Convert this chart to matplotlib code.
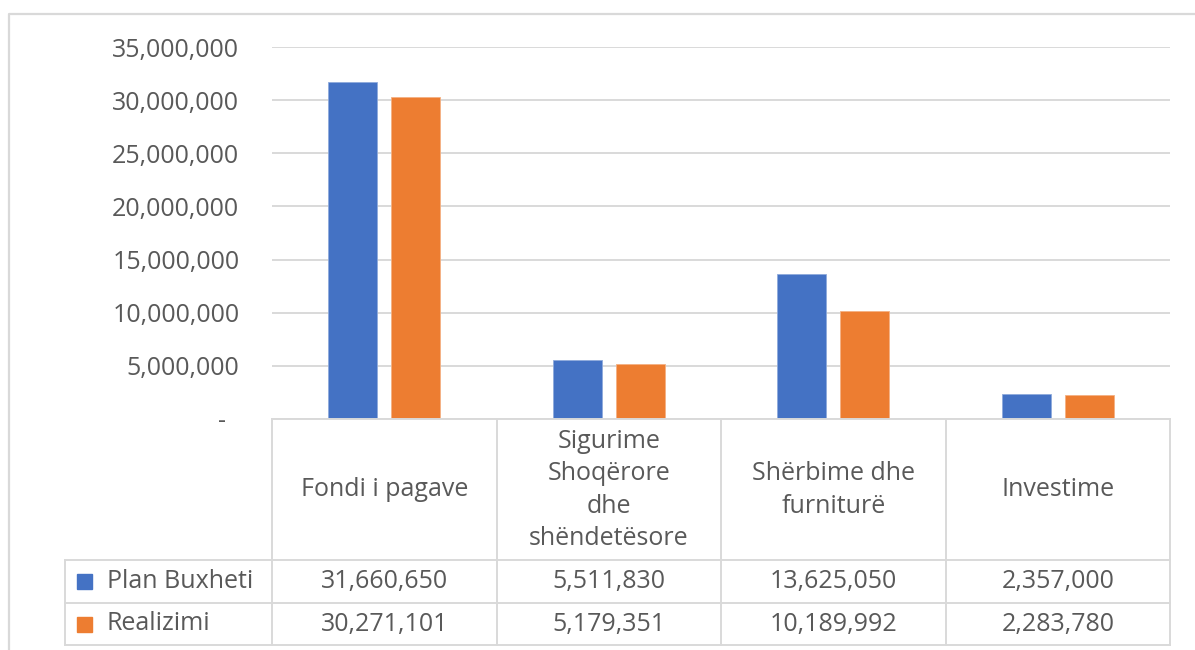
import matplotlib.pyplot as plt
import numpy as np
from matplotlib.ticker import FuncFormatter

# 数据
categories = ['Fondi i pagave', 'Sigurime\nShoqërore\ndhe\nshëndetësore',
              'Shërbime dhe\nfurniturë', 'Investime']
series_names = ['Plan Buxheti', 'Realizimi']
plan_buxheti = [31660650, 5511830, 13625050, 2357000]
realizimi = [30271101, 5179351, 10189992, 2283780]
y_ticks = [0, 5000000, 10000000, 15000000, 20000000, 25000000, 30000000, 35000000]

colors = ['#4472C4', '#ED7D31']
text_color = '#595959'
line_color = '#D9D9D9'

plt.rcParams['font.family'] = ['Open Sans', 'DejaVu Sans']

W, H = 1195, 650
fig = plt.figure(figsize=(W / 100, H / 100), dpi=100)

# 像素 -> 图形坐标
def fx(x):
    return x / W

def fy(y):
    return 1 - y / H

# 主图区域
left, right, top, bottom = 272, 1170, 47, 419
ax = fig.add_axes([fx(left), fy(bottom), fx(right - left), (bottom - top) / H])

x = np.arange(len(categories))
bw = 0.218
off = 0.14
ax.bar(x - off, plan_buxheti, bw, color=colors[0], edgecolor='#8FAADC', linewidth=0.6, zorder=3)
ax.bar(x + off, realizimi, bw, color=colors[1], edgecolor='#F4B183', linewidth=0.6, zorder=3)

ax.set_xlim(-0.5, len(categories) - 0.5)
ax.set_ylim(0, 35000000)
ax.set_yticks(y_ticks)
ax.yaxis.set_major_formatter(FuncFormatter(lambda v, p: '-  ' if v == 0 else f'{int(v):,}'))
ax.tick_params(axis='y', length=0, pad=23.5, labelsize=18, labelcolor=text_color)
ax.set_xticks([])
ax.grid(axis='y', color=line_color, linewidth=1.4, zorder=0)
for s in ax.spines.values():
    s.set_visible(False)

# 覆盖层：表格和外框
ov = fig.add_axes([0, 0, 1, 1], zorder=5)
ov.set_xlim(0, W)
ov.set_ylim(H, 0)
ov.axis('off')
ov.patch.set_alpha(0)

# 外框
ov.plot([9, 9, W], [H, 14, 14], color=line_color, lw=1.6)

# 表格线
col_x = [272, 497, 721, 946, 1170]
row_y = [419, 560, 603, 645]
tab_lw = 1.4
ov.plot([272, 1170], [419, 419], color=line_color, lw=tab_lw)
for yy in row_y[1:]:
    ov.plot([65, 1170], [yy, yy], color=line_color, lw=tab_lw)
for xx in col_x:
    ov.plot([xx, xx], [419, 645], color=line_color, lw=tab_lw)
ov.plot([65, 65], [560, 645], color=line_color, lw=tab_lw)

fs = 18
# 表头
for i, cat in enumerate(categories):
    cx = (col_x[i] + col_x[i + 1]) / 2
    ov.text(cx, 490, cat, ha='center', va='center', fontsize=fs, color=text_color,
            linespacing=1.38)

# 数据行
for r, (name, vals) in enumerate(zip(series_names, [plan_buxheti, realizimi])):
    cy = (row_y[r + 1] + row_y[r + 2]) / 2
    ov.add_patch(plt.Rectangle((77, cy - 7.5), 15, 15, color=colors[r]))
    ov.text(107, cy, name, ha='left', va='center', fontsize=fs, color=text_color)
    for i, v in enumerate(vals):
        cx = (col_x[i] + col_x[i + 1]) / 2
        ov.text(cx, cy, f'{v:,}', ha='center', va='center', fontsize=fs, color=text_color)

plt.savefig('out.png', dpi=100)
plt.close()
